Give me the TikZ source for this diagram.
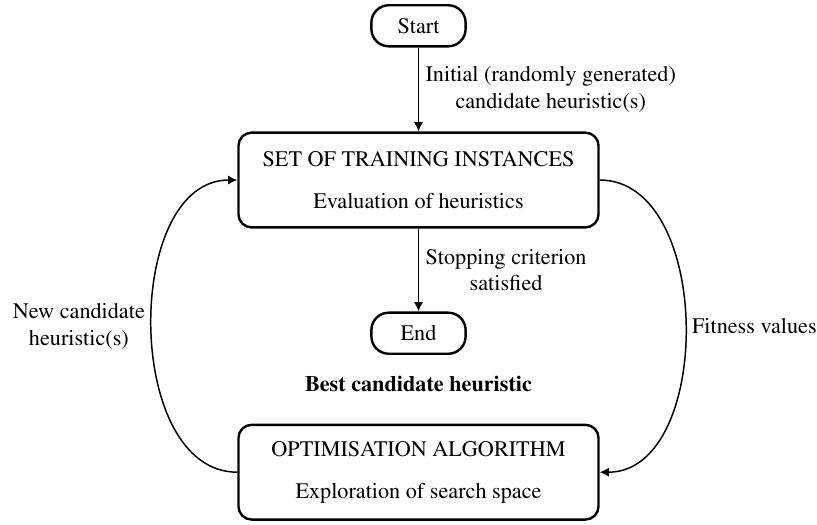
\documentclass[tikz,border=0pt]{standalone}
\usepackage[T1]{fontenc}
\usepackage{mathptmx}
\usetikzlibrary{arrows.meta}

\begin{document}
\begin{tikzpicture}[>={Latex[length=5pt, width=5pt]}, font=\fontsize{12}{14.5}\selectfont]
	\tikzset{
		terminal/.style={draw, line width=1.3pt, rounded corners=0.33cm, minimum width=1.79cm, minimum height=0.78cm},
		stage/.style={draw, line width=1.3pt, rounded corners=0.25cm, minimum width=6.84cm, minimum height=1.8cm, align=center},
		flow/.style={line width=1pt, ->},
		loop/.style={line width=0.8pt, ->}
	}

	\useasboundingbox (0, 0) rectangle (15.52, -9.97);

	\node[terminal] (start) at (7.95, -0.49) {Start};
	\node[stage] (train) at (7.95, -3.42) {SET OF TRAINING INSTANCES\\[8pt] Evaluation of heuristics};
	\node[terminal] (end) at (7.95, -6.33) {End};
	\node (best) at (7.95, -7.30) {\bfseries Best candidate heuristic};
	\node[stage] (optim) at (7.95, -8.97) {OPTIMISATION ALGORITHM\\[8pt] Exploration of search space};

	\draw[flow] (start) -- node[right, align=center] {Initial (randomly generated)\\candidate heuristic(s)} (train);
	\draw[flow] (train) -- node[right, align=center] {Stopping criterion\\satisfied} (end);

	% feedback loop
	\draw[loop] (train.east) to[out=0, in=0] node[right] {Fitness values} (optim.east);
	\draw[loop] (optim.west) to[out=180, in=180] node[left, align=center] {New candidate\\heuristic(s)} (train.west);
\end{tikzpicture}
\end{document}
